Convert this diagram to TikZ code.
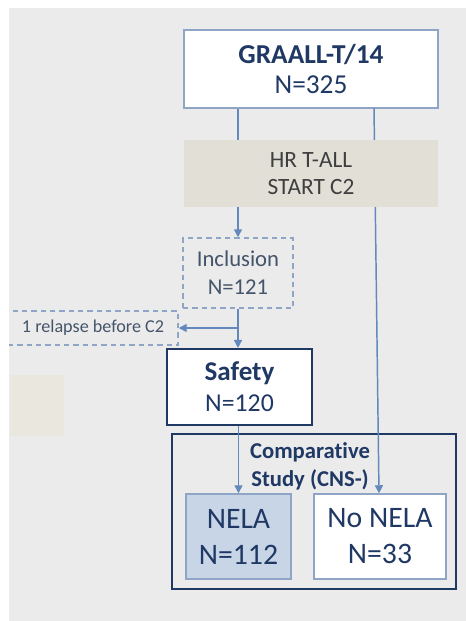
\documentclass[tikz,border=0pt]{standalone}
\usepackage{fontspec}
\setmainfont[Ligatures=NoCommon]{Carlito}
\usetikzlibrary{arrows.meta}
\definecolor{bggray}{HTML}{EBEBEB}
\definecolor{lightb}{HTML}{8FA5C6}
\definecolor{conn}{HTML}{6288BC}
\definecolor{navy}{HTML}{1F3864}
\definecolor{hrfill}{HTML}{E2DFD7}
\definecolor{hrtext}{HTML}{3F3F3F}
\definecolor{nelafill}{HTML}{C8D5E6}
\definecolor{slate}{HTML}{44546A}
\definecolor{beige}{HTML}{EAE7DE}
\begin{document}
\begin{tikzpicture}[x=0.75pt,y=-0.75pt,
  box/.style={draw=lightb,line width=1.1pt,fill=white,align=center,inner sep=0pt},
  dbox/.style={draw=lightb,dashed,dash pattern=on 4pt off 3pt,line width=1.1pt,align=center,inner sep=0pt},
  nbox/.style={draw=navy,line width=1.6pt,align=center,inner sep=0pt},
  arr/.style={draw=conn,line width=1.1pt,-{Triangle[length=6pt,width=6pt]}},
  ln/.style={draw=conn,line width=1.1pt}]
\fill[white] (0,0) rectangle (466,621);
\useasboundingbox (0,0) rectangle (466,621);
\fill[bggray] (9,8) rectangle (466,621);
\fill[beige] (10,375) rectangle (64,436);

\node[box,minimum width=254*0.75pt,minimum height=78*0.75pt,text=navy,
  font=\fontsize{20.5}{22.5}\selectfont] (graall) at (311,69)
  {\textbf{GRAALL-T/14}\\N=325};
\node[dbox,minimum width=110*0.75pt,minimum height=70*0.75pt,text=slate,
  font=\fontsize{17}{21}\selectfont] (incl) at (238,273)
  {Inclusion\\N=121};
\node[dbox,minimum width=170*0.75pt,minimum height=34*0.75pt,text=slate,
  font=\fontsize{13.6}{15}\selectfont] (relapse) at (93,328)
  {1 relapse before C2};
\node[nbox,fill=white,minimum width=145*0.75pt,minimum height=76*0.75pt,text=navy,
  font=\fontsize{19.3}{23}\selectfont] (safety) at (239.5,387)
  {\textbf{\fontsize{20.3}{23}\selectfont Safety}\\N=120};
\node[nbox,minimum width=284*0.75pt,minimum height=155*0.75pt] (comp) at (314,511.5) {};
\node[text=navy,align=center,inner sep=0pt,font=\fontsize{17}{21}\selectfont\bfseries] (comptxt) at (310,466)
  {Comparative\\Study (CNS-)};
\node[box,fill=nelafill,minimum width=105*0.75pt,minimum height=85*0.75pt,text=navy,
  font=\fontsize{22.3}{27}\selectfont] (nela) at (238.5,536.5)
  {NELA\\N=112};
\node[box,minimum width=132*0.75pt,minimum height=85*0.75pt,text=navy,
  font=\fontsize{22.3}{27}\selectfont] (nonela) at (380,536.5)
  {No NELA\\N=33};

\coordinate (rtop) at (374,108);
\draw[arr] (graall.south -| incl.north) -- (incl.north);
\draw[arr] (rtop) -- ([xshift=-0.75pt]nonela.north);
\draw[arr] (incl.south) -- (incl.south |- safety.north);
\draw[arr] (incl.south |- relapse.east) -- (relapse.east);
\draw[arr] (nela.north |- safety.south) -- (nela.north);

\node[fill=hrfill,minimum width=254*0.75pt,minimum height=67*0.75pt,align=center,inner sep=0pt,text=hrtext,
  font=\fontsize{17.5}{20.5}\selectfont] (hr) at (311,173.5)
  {HR T-ALL\\START C2};

\fill[white] (0,0) rectangle (9,621);
\fill[white] (0,0) rectangle (466,8);
\end{tikzpicture}
\end{document}
